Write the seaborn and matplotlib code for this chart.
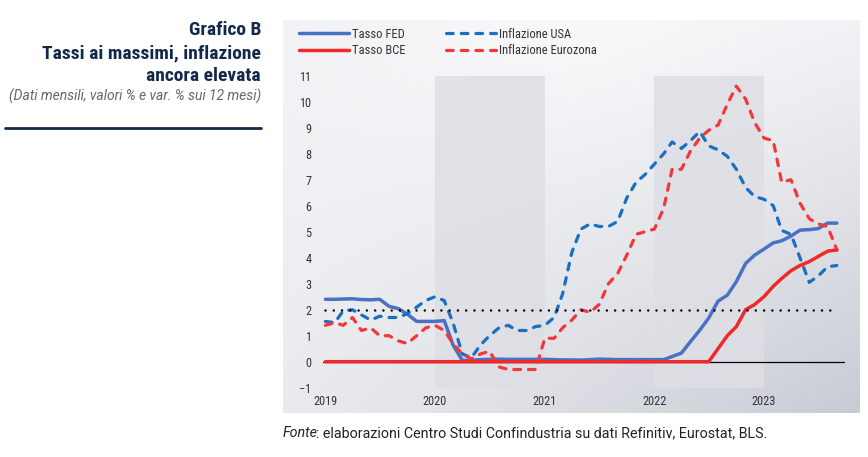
import numpy as np
import pandas as pd
import matplotlib
matplotlib.use('Agg')
import matplotlib.pyplot as plt
import seaborn as sns
from matplotlib import font_manager

# Dati mensili, gen 2019 - set 2023
months = pd.date_range('2019-01-01', '2023-09-01', freq='MS')

tasso_fed = [2.40, 2.40, 2.41, 2.42, 2.39, 2.38, 2.40, 2.13, 2.04, 1.83, 1.55, 1.55,
             1.55, 1.58, 0.65, 0.05, 0.05, 0.08, 0.09, 0.10, 0.09, 0.09, 0.09, 0.09,
             0.09, 0.08, 0.07, 0.07, 0.06, 0.08, 0.10, 0.09, 0.08, 0.08, 0.08, 0.08,
             0.08, 0.08, 0.20, 0.33, 0.77, 1.21, 1.68, 2.33, 2.56, 3.08, 3.78, 4.10,
             4.33, 4.57, 4.65, 4.83, 5.06, 5.08, 5.12, 5.33, 5.33]

tasso_bce = [0.0] * 43 + [0.5, 1.0, 1.35, 2.0, 2.2,
                          2.5, 2.9, 3.2, 3.5, 3.7, 3.85, 4.05, 4.25, 4.3]

infl_usa = [1.55, 1.5, 1.95, 2.0, 1.8, 1.6, 1.75, 1.7, 1.7, 1.85, 2.1, 2.35,
            2.5, 2.35, 1.5, 0.3, 0.15, 0.65, 1.0, 1.3, 1.4, 1.2, 1.2, 1.35,
            1.4, 1.7, 2.6, 4.2, 5.1, 5.3, 5.2, 5.2, 5.4, 6.3, 6.9, 7.2,
            7.6, 8.0, 8.45, 8.2, 8.5, 8.85, 8.3, 8.15, 7.9, 7.4, 6.7, 6.35,
            6.25, 6.0, 5.05, 4.9, 4.0, 3.05, 3.3, 3.65, 3.7]

infl_euro = [1.4, 1.5, 1.4, 1.7, 1.2, 1.3, 1.0, 1.0, 0.8, 0.7, 1.0, 1.3,
             1.4, 1.2, 0.7, 0.3, 0.1, 0.3, 0.4, -0.2, -0.3, -0.3, -0.3, -0.3,
             0.9, 0.9, 1.3, 1.6, 2.0, 1.9, 2.2, 3.0, 3.4, 4.1, 4.9, 5.0,
             5.1, 5.9, 7.4, 7.4, 8.1, 8.6, 8.9, 9.1, 9.9, 10.6, 10.1, 9.2,
             8.6, 8.5, 6.9, 7.0, 6.1, 5.5, 5.3, 5.2, 4.3]

target = 2.0
year_ticks = ['2019', '2020', '2021', '2022', '2023']
shaded_years = ['2020', '2022']

df = pd.DataFrame({'date': months, 'fed': tasso_fed, 'bce': tasso_bce,
                   'usa': infl_usa, 'euro': infl_euro})

sns.set_theme(style='white')

# font condensed se disponibile
available = {f.name for f in font_manager.fontManager.ttflist}
cond = next((f for f in ['Roboto Condensed', 'Liberation Sans Narrow', 'Roboto']
             if f in available), 'DejaVu Sans')
plain = 'Roboto' if 'Roboto' in available else 'DejaVu Sans'
plt.rcParams['font.family'] = [cond, 'DejaVu Sans']

W, H = 868, 457
fig = plt.figure(figsize=(W / 100, H / 100), dpi=100)
fig.patch.set_facecolor('white')

# sfondo sfumato del pannello
bg = fig.add_axes([283 / W, 1 - 413 / H, (860 - 283) / W, (413 - 20) / H], zorder=0)
u = np.linspace(0, 1, 300)[None, :]
v = np.linspace(0, 1, 200)[:, None]
d = np.clip(0.25 * np.sqrt((u - 0.5) ** 2 + (v - 0.95) ** 2) + 0.6 * u * (1 - v), 0, 1)
light = np.array([249, 249, 251]) / 255
dark = np.array([192, 196, 206]) / 255
img = light * (1 - d[..., None]) + dark * d[..., None]
bg.imshow(img, aspect='auto', extent=[0, 1, 0, 1], origin='lower')
bg.axis('off')

ax = fig.add_axes([323 / W, 1 - 387.7 / H, (845 - 323) / W, (387.7 - 75.7) / H], zorder=1)
ax.set_facecolor('none')

for y in shaded_years:
    ax.axvspan(pd.Timestamp(f'{y}-01-01'), pd.Timestamp(f'{int(y) + 1}-01-01'),
               color='#dedfe5', alpha=0.85, lw=0, zorder=0)

ax.axhline(0, color='black', lw=0.9, zorder=1)

sns.lineplot(data=df, x='date', y='fed', ax=ax, color='#4a72c2', lw=2.5,
             label='Tasso FED', zorder=3)
sns.lineplot(data=df, x='date', y='bce', ax=ax, color='#ee2a2a', lw=2.5,
             label='Tasso BCE', zorder=4)
sns.lineplot(data=df, x='date', y='usa', ax=ax, color='#1b6fc1', lw=2.3,
             linestyle=(0, (2.1, 2.5)), label='Inflazione USA', zorder=3)
sns.lineplot(data=df, x='date', y='euro', ax=ax, color='#f2383a', lw=2.3,
             linestyle=(0, (2.1, 2.5)), label='Inflazione Eurozona', zorder=3)
for line in ax.get_lines()[-2:]:
    line.set_dash_capstyle('round')

ax.hlines(target, months[0], months[-1], colors='black', lw=1.8,
          linestyles=[(0, (0.01, 3.3))], capstyle='round', zorder=5)

ax.set_xlim(pd.Timestamp('2018-12-24'), pd.Timestamp('2023-09-28'))
ax.set_ylim(-1, 11)
ax.set_yticks(range(-1, 12))
ax.set_xticks([pd.Timestamp(f'{y}-01-01') for y in year_ticks])
ax.set_xticklabels(year_ticks)
ax.tick_params(axis='both', length=0, labelsize=8.8, labelcolor='#333333')
ax.tick_params(axis='y', pad=8.5)
ax.tick_params(axis='x', pad=5.5)
ax.set_xlabel('')
ax.set_ylabel('')
sns.despine(ax=ax, left=True, bottom=True)

handles, labels = ax.get_legend_handles_labels()
leg = ax.legend(handles, labels, ncol=2, loc='upper left', frameon=False,
                bbox_to_anchor=(299 / W, 1 - 27.5 / H), bbox_transform=fig.transFigure,
                borderpad=0, borderaxespad=0, handlelength=4.0, handletextpad=0.2,
                columnspacing=3.3, labelspacing=0.3, fontsize=9)
for t in leg.get_texts():
    t.set_color('#333333')

# titolo a sinistra
navy = '#13294b'
title_lines = [('Grafico B', 35), ('Tassi ai massimi, inflazione', 58.5),
               ('ancora elevata', 81)]
for txt, yb in title_lines:
    fig.text(261 / W, 1 - yb / H, txt, ha='right', va='baseline',
             fontsize=14, fontweight='bold', color=navy)
fig.text(261 / W, 1 - 101 / H, '(Dati mensili, valori % e var. % sui 12 mesi)',
         ha='right', va='baseline', fontsize=10, style='italic', fontweight='normal',
         color='#666666', family=[plain, 'DejaVu Sans'])
fig.add_artist(plt.Line2D([5 / W, 261 / W], [1 - 127.7 / H] * 2, color=navy, lw=2.0))

# fonte
renderer = fig.canvas.get_renderer()
t1 = fig.text(283 / W, 1 - 437 / H, 'Fonte', ha='left', va='baseline', fontsize=10.3,
              style='italic', color='#222222', family=[plain, 'DejaVu Sans'])
bb = t1.get_window_extent(renderer)
fig.text((bb.x1 - 2.5) / W, 1 - 437 / H,
         ': elaborazioni Centro Studi Confindustria su dati Refinitiv, Eurostat, BLS.',
         ha='left', va='baseline', fontsize=10.3, color='#222222',
         family=[plain, 'DejaVu Sans'])

fig.savefig('out.png', dpi=100)
